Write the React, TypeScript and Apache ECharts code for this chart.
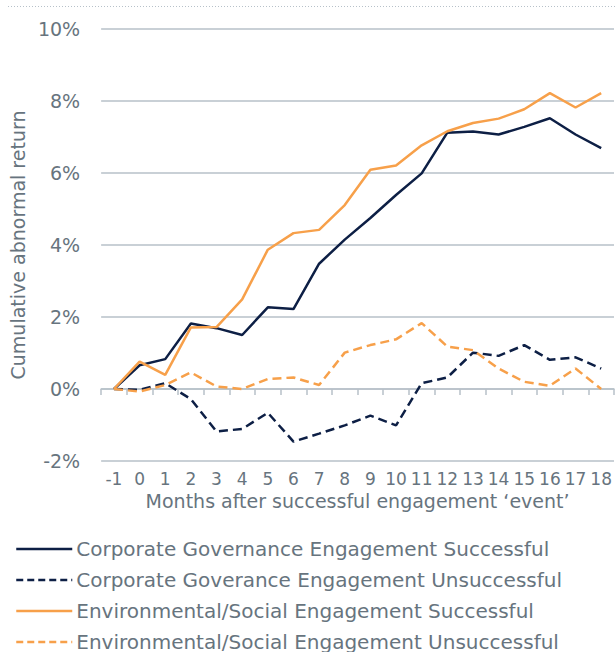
import React, { useEffect, useRef } from "react";
import * as echarts from "echarts";

const months = ["-1", "0", "1", "2", "3", "4", "5", "6", "7", "8", "9", "10", "11", "12", "13", "14", "15", "16", "17", "18"];
const cgSuccessful = [0, 0.66, 0.83, 1.82, 1.69, 1.5, 2.27, 2.22, 3.48, 4.15, 4.75, 5.39, 5.99, 7.12, 7.15, 7.07, 7.28, 7.52, 7.07, 6.69];
const cgUnsuccessful = [0, -0.02, 0.16, -0.28, -1.18, -1.11, -0.66, -1.46, -1.24, -1.01, -0.74, -1.01, 0.16, 0.32, 1.01, 0.92, 1.22, 0.81, 0.88, 0.57];
const esSuccessful = [0, 0.76, 0.39, 1.71, 1.72, 2.49, 3.87, 4.33, 4.42, 5.11, 6.09, 6.21, 6.77, 7.16, 7.39, 7.51, 7.77, 8.22, 7.82, 8.22];
const esUnsuccessful = [0, -0.07, 0.11, 0.46, 0.07, 0.0, 0.28, 0.32, 0.11, 1.01, 1.22, 1.38, 1.83, 1.18, 1.08, 0.57, 0.2, 0.09, 0.57, 0.0];
const seriesNames = [
  "Corporate Governance Engagement Successful",
  "Corporate Goverance Engagement Unsuccessful",
  "Environmental/Social Engagement Successful",
  "Environmental/Social Engagement Unsuccessful",
];
const yTicks = { min: -2, max: 10, interval: 2 };

const NAVY = "#0d1f45";
const ORANGE = "#f7a04a";
const TEXT = "#67747e";
const GRID = "#b7c1c9";
const FONT = "DejaVu Sans";

export default function App() {
  const ref = useRef<HTMLDivElement>(null);
  useEffect(() => {
    document.body.style.margin = "0";
    const chart = echarts.init(ref.current!, null, { renderer: "svg" });
    const mk = (name: string, data: number[], color: string, dashed: boolean) => ({
      name,
      type: "line",
      data,
      symbol: "none",
      xAxisIndex: 0,
      lineStyle: { color, width: 2.5, type: dashed ? [9, 5] : "solid" },
      itemStyle: { color },
    });
    chart.setOption({
      animation: false,
      textStyle: { fontFamily: FONT },
      grid: { left: 98, right: 2, top: 29, bottom: 191, containLabel: false },
      xAxis: [
        {
          type: "category",
          data: months,
          position: "bottom",
          boundaryGap: true,
          axisLine: { show: false, onZero: false },
          axisTick: { show: false },
          axisLabel: { color: TEXT, fontSize: 17, interval: 0, margin: 9, fontFamily: FONT },
          name: "Months after successful engagement \u2018event\u2019",
          nameLocation: "middle",
          nameGap: 29,
          nameTextStyle: { color: TEXT, fontSize: 19, fontFamily: FONT, verticalAlign: "top" },
        },
        {
          type: "category",
          data: months,
          boundaryGap: true,
          position: "bottom",
          axisLine: { show: true, onZero: true, lineStyle: { color: GRID, width: 1.5 } },
          axisTick: { show: true, length: 6, interval: 0, lineStyle: { color: GRID, width: 1.5 } },
          axisLabel: { show: false },
        },
      ],
      yAxis: {
        type: "value",
        min: yTicks.min,
        max: yTicks.max,
        interval: yTicks.interval,
        axisLine: { show: false },
        axisTick: { show: false },
        splitLine: { lineStyle: { color: GRID, width: 1.5 } },
        axisLabel: { color: TEXT, fontSize: 19, margin: 21, formatter: (v: number) => `${v}%`, fontFamily: FONT },
        name: "Cumulative abnormal return",
        nameLocation: "middle",
        nameGap: 67,
        nameTextStyle: { color: TEXT, fontSize: 19, fontFamily: FONT },
      },
      legend: {
        orient: "vertical",
        left: 15,
        top: 538,
        height: 130,
        padding: 0,
        itemWidth: 56,
        itemHeight: 14,
        itemGap: 9,
        itemStyle: { opacity: 0 },
        textStyle: { color: TEXT, fontSize: 20, lineHeight: 22, fontFamily: FONT, padding: [0, 0, 0, -1] },
        data: seriesNames.map((n, i) => ({
          name: n,
          lineStyle: i % 2 === 1 ? { type: [7, 4], width: 2.5 } : { width: 2.5 },
        })),
      },
      graphic: [
        {
          type: "line",
          shape: { x1: 8, y1: 6.5, x2: 616, y2: 6.5 },
          style: { stroke: GRID, lineWidth: 1, lineDash: [1, 2] },
        },
      ],
      series: [
        mk(seriesNames[0], cgSuccessful, NAVY, false),
        mk(seriesNames[1], cgUnsuccessful, NAVY, true),
        mk(seriesNames[2], esSuccessful, ORANGE, false),
        mk(seriesNames[3], esUnsuccessful, ORANGE, true),
      ],
    });
    return () => chart.dispose();
  }, []);
  return <div ref={ref} style={{ width: 616, height: 652 }} />;
}
